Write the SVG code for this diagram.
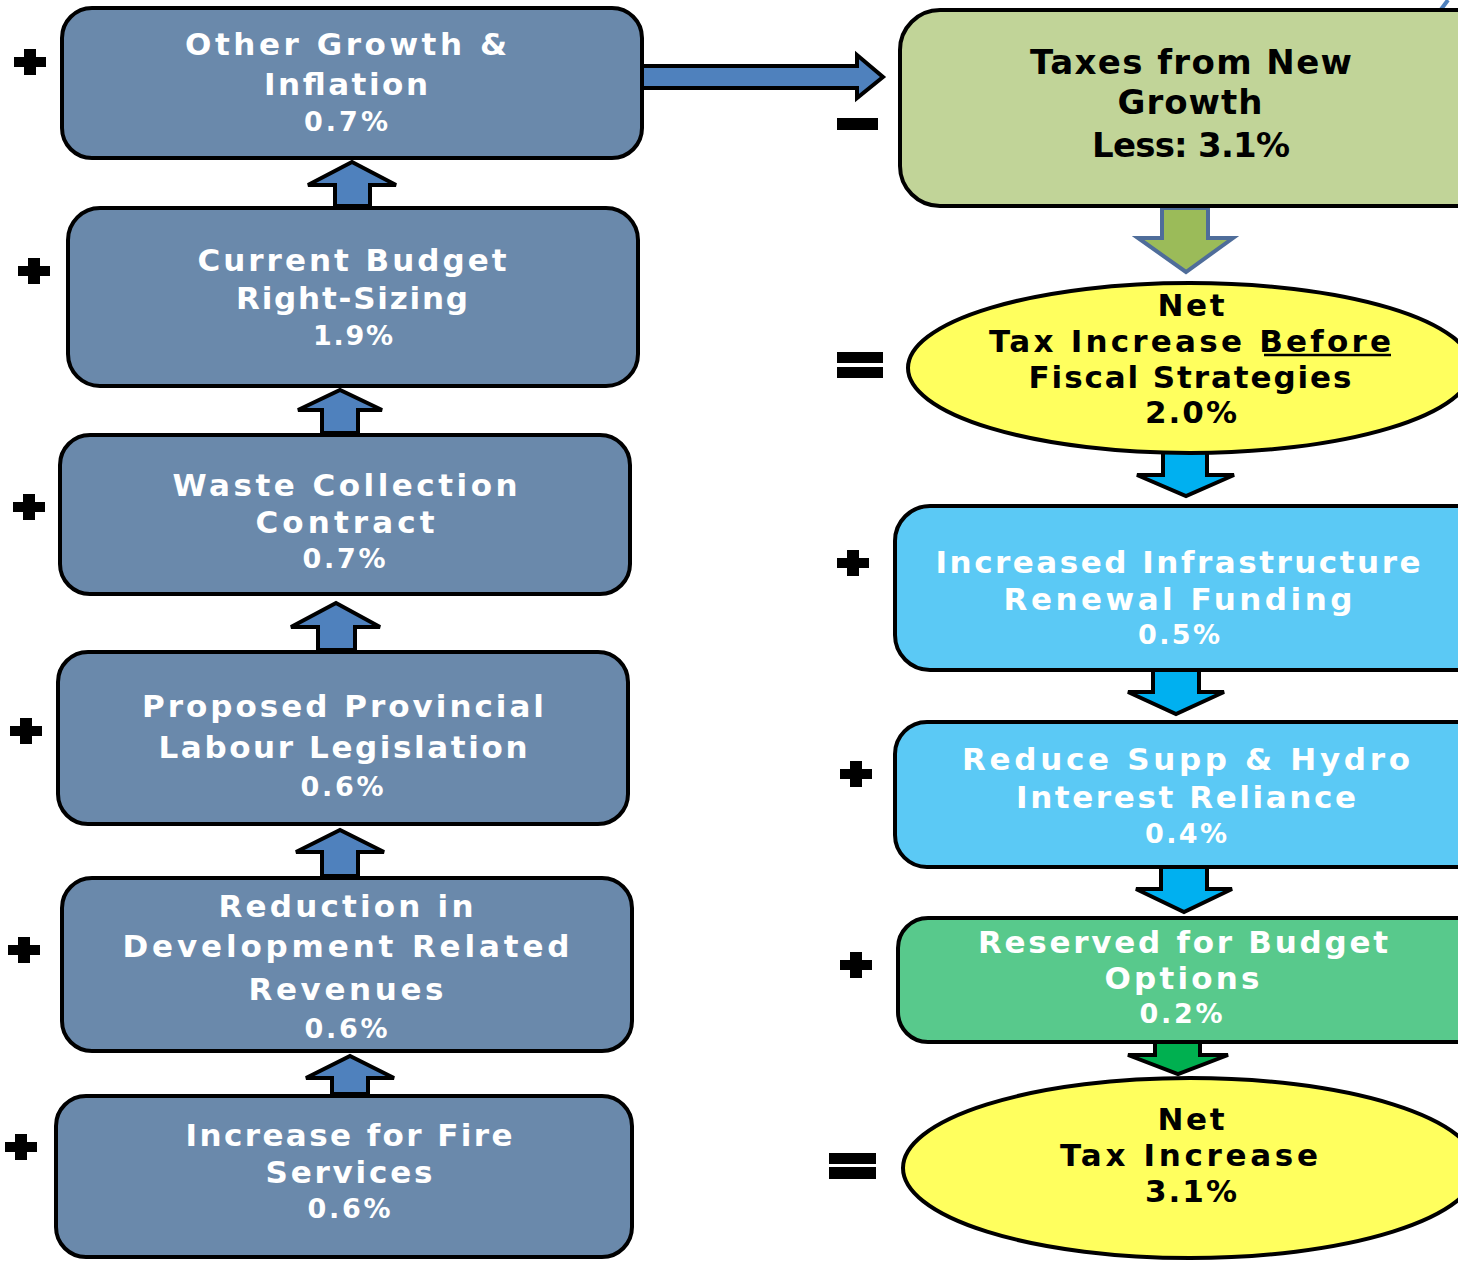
<svg xmlns="http://www.w3.org/2000/svg" width="1458" height="1261" viewBox="0 0 1458 1261">
<style>
.lbox{fill:#6a89ab;stroke:#000;stroke-width:4}
.tax{fill:#c1d498;stroke:#000;stroke-width:4}
.ell{fill:#ffff5e;stroke:#000;stroke-width:4}
.cyan{fill:#5bc9f5;stroke:#000;stroke-width:4}
.grn{fill:#58c98c;stroke:#000;stroke-width:4}
.ua{fill:#4f81bd;stroke:#000;stroke-width:4;stroke-linejoin:miter}
.ca{fill:#00b0f0;stroke:#000;stroke-width:4}
.ga{fill:#00b050;stroke:#000;stroke-width:4}
.oa{fill:#9bbb59;stroke:#4f6d9a;stroke-width:4}
text{font-family:"DejaVu Sans","Liberation Sans",sans-serif;font-weight:bold;text-anchor:middle}
.w{fill:#fff;font-size:31px}
.wp{fill:#fff;font-size:27px}
.b{fill:#000;font-size:34px}
.bp{fill:#000;font-size:31px}
.sym{fill:#000}
</style>
<defs>
<path id="plus" d="M-6,-13 H6 V-5 H16 V5 H6 V13 H-6 V5 H-16 V-5 H-6 Z"/>
</defs>

<g id="connectors">
<polygon class="ua" points="642,66 857,66 857,55 883,77 857,98 857,88 642,88"/>
<polygon class="ua" points="335,206 335,185 308,185 352,162 396,185 370,185 370,206"/>
<polygon class="ua" points="322,433 322,410 298,410 340,390 382,410 358,410 358,433"/>
<polygon class="ua" points="318,650 318,627 291,627 336,603 380,627 355,627 355,650"/>
<polygon class="ua" points="322,876 322,852 296,852 340,830 384,852 358,852 358,876"/>
<polygon class="ua" points="332,1094 332,1078 306,1078 350,1056 394,1078 368,1078 368,1094"/>
<polygon class="oa" points="1162,208 1208,208 1208,238 1233,238 1186,272 1138,238 1162,238"/>
<polygon class="ca" points="1163,452 1207,452 1207,475 1234,475 1186,496 1137,475 1163,475"/>
<polygon class="ca" points="1153,670 1199,670 1199,692 1224,692 1176,714 1128,692 1153,692"/>
<polygon class="ca" points="1161,866 1207,866 1207,889 1232,889 1184,912 1136,889 1161,889"/>
<polygon class="ga" points="1155,1042 1200,1042 1200,1055 1228,1055 1178,1074 1128,1055 1155,1055"/>
<path d="M1436,16 L1448,0" stroke="#4f81bd" stroke-width="4" fill="none"/>
</g>

<g id="signs" class="sym">
<use href="#plus" x="30" y="62"/>
<use href="#plus" x="34" y="271"/>
<use href="#plus" x="29" y="507"/>
<use href="#plus" x="26" y="731"/>
<use href="#plus" x="24" y="950"/>
<use href="#plus" x="21" y="1147"/>
<use href="#plus" x="853" y="563"/>
<use href="#plus" x="856" y="774"/>
<use href="#plus" x="856" y="965"/>
<rect x="837" y="118" width="41" height="12"/>
<rect x="837" y="352" width="46" height="11"/>
<rect x="837" y="367" width="46" height="11"/>
<rect x="829" y="1153" width="47" height="11"/>
<rect x="829" y="1167" width="47" height="12"/>
</g>

<g id="other-growth">
<rect class="lbox" x="62" y="8" width="580" height="150" rx="30"/>
<text class="w" x="346" y="55" textLength="322" lengthAdjust="spacing">Other Growth &amp;</text>
<text class="w" x="346" y="95" textLength="164" lengthAdjust="spacing">Inflation</text>
<text class="wp" x="346" y="131" textLength="84" lengthAdjust="spacing">0.7%</text>
</g>

<g id="current-budget">
<rect class="lbox" x="68" y="208" width="570" height="178" rx="32"/>
<text class="w" x="352" y="271" textLength="309" lengthAdjust="spacing">Current Budget</text>
<text class="w" x="352" y="309" textLength="232" lengthAdjust="spacing">Right-Sizing</text>
<text class="wp" x="353" y="345" textLength="80" lengthAdjust="spacing">1.9%</text>
</g>

<g id="waste-collection">
<rect class="lbox" x="60" y="435" width="570" height="159" rx="30"/>
<text class="w" x="345" y="496" textLength="345" lengthAdjust="spacing">Waste Collection</text>
<text class="w" x="345" y="533" textLength="179" lengthAdjust="spacing">Contract</text>
<text class="wp" x="344" y="568" textLength="83" lengthAdjust="spacing">0.7%</text>
</g>

<g id="provincial-labour">
<rect class="lbox" x="58" y="652" width="570" height="172" rx="30"/>
<text class="w" x="343" y="717" textLength="402" lengthAdjust="spacing">Proposed Provincial</text>
<text class="w" x="343" y="758" textLength="369" lengthAdjust="spacing">Labour Legislation</text>
<text class="wp" x="342" y="796" textLength="83" lengthAdjust="spacing">0.6%</text>
</g>

<g id="development-revenues">
<rect class="lbox" x="62" y="878" width="570" height="173" rx="30"/>
<text class="w" x="346" y="917" textLength="255" lengthAdjust="spacing">Reduction in</text>
<text class="w" x="346" y="957" textLength="447" lengthAdjust="spacing">Development Related</text>
<text class="w" x="346" y="1000" textLength="195" lengthAdjust="spacing">Revenues</text>
<text class="wp" x="346" y="1038" textLength="83" lengthAdjust="spacing">0.6%</text>
</g>

<g id="fire-services">
<rect class="lbox" x="56" y="1096" width="576" height="161" rx="30"/>
<text class="w" x="349" y="1146" textLength="327" lengthAdjust="spacing">Increase for Fire</text>
<text class="w" x="349" y="1183" textLength="167" lengthAdjust="spacing">Services</text>
<text class="wp" x="349" y="1218" textLength="83" lengthAdjust="spacing">0.6%</text>
</g>

<g id="taxes-new-growth">
<rect class="tax" x="900" y="10" width="600" height="196" rx="40"/>
<text class="b" x="1191" y="74" textLength="322" lengthAdjust="spacing">Taxes from New</text>
<text class="b" x="1190" y="114" textLength="145" lengthAdjust="spacing">Growth</text>
<text class="b" x="1191" y="157" textLength="198" lengthAdjust="spacing">Less: 3.1%</text>
</g>

<g id="net-before">
<ellipse class="ell" cx="1190" cy="368" rx="282" ry="85"/>
<text class="bp" x="1191" y="316" textLength="67" lengthAdjust="spacing">Net</text>
<text class="bp" x="1190" y="352" textLength="402" lengthAdjust="spacing">Tax Increase Before</text>
<line x1="1264" y1="355" x2="1391" y2="355" stroke="#000" stroke-width="2.5"/>
<text class="bp" x="1190" y="388" textLength="323" lengthAdjust="spacing">Fiscal Strategies</text>
<text class="bp" x="1191" y="423" textLength="92" lengthAdjust="spacing">2.0%</text>
</g>

<g id="infrastructure">
<rect class="cyan" x="895" y="506" width="600" height="164" rx="35"/>
<text class="w" x="1178" y="573" textLength="485" lengthAdjust="spacing">Increased Infrastructure</text>
<text class="w" x="1178" y="610" textLength="349" lengthAdjust="spacing">Renewal Funding</text>
<text class="wp" x="1179" y="644" textLength="82" lengthAdjust="spacing">0.5%</text>
</g>

<g id="supp-hydro">
<rect class="cyan" x="895" y="722" width="600" height="145" rx="32"/>
<text class="w" x="1186" y="770" textLength="448" lengthAdjust="spacing">Reduce Supp &amp; Hydro</text>
<text class="w" x="1186" y="808" textLength="340" lengthAdjust="spacing">Interest Reliance</text>
<text class="wp" x="1186" y="843" textLength="82" lengthAdjust="spacing">0.4%</text>
</g>

<g id="budget-options">
<rect class="grn" x="898" y="918" width="600" height="124" rx="30"/>
<text class="w" x="1183" y="953" textLength="410" lengthAdjust="spacing">Reserved for Budget</text>
<text class="w" x="1182" y="989" textLength="155" lengthAdjust="spacing">Options</text>
<text class="wp" x="1181" y="1023" textLength="83" lengthAdjust="spacing">0.2%</text>
</g>

<g id="net-tax">
<ellipse class="ell" cx="1190" cy="1168" rx="287" ry="90"/>
<text class="bp" x="1191" y="1130" textLength="67" lengthAdjust="spacing">Net</text>
<text class="bp" x="1189" y="1166" textLength="258" lengthAdjust="spacing">Tax Increase</text>
<text class="bp" x="1191" y="1202" textLength="92" lengthAdjust="spacing">3.1%</text>
</g>
</svg>
